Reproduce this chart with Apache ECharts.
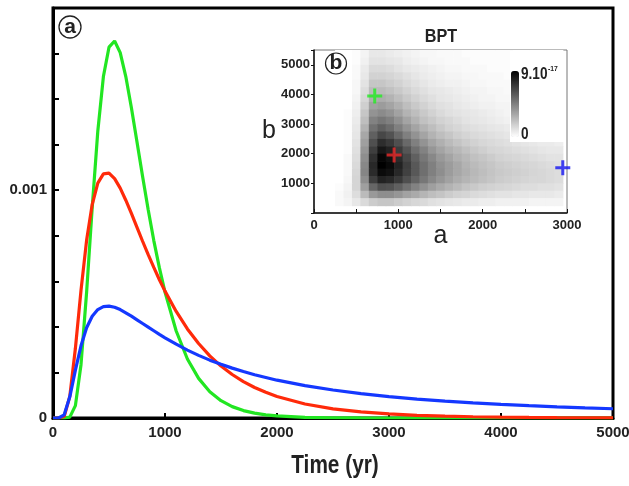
<!DOCTYPE html>
<html><head><meta charset="utf-8">
<script src="https://cdn.jsdelivr.net/npm/echarts/dist/echarts.min.js"></script>
<style>html,body{margin:0;padding:0;background:#fff}#c{width:629px;height:486px}</style>
</head><body><div id="c"></div>
<script>
// ---- main panel (a): probability density vs time ----
const time = [0,50,100,150,200,250,300,350,400,450,500,550,600,650,700,750,800,850,900,950,1000,
  1100,1200,1300,1400,1500,1600,1700,1800,1900,2000,2250,2500,2750,3000,3250,3500,3750,4000,4250,4500,4750,5000];
const greenVals = [0,0,0,0.00000365,0.0000542,0.000234,0.000551,0.000923,0.001259,0.001499,0.001628,0.001655,0.001604,0.001499,0.001362,0.001212,0.001060,0.000914,0.000779,0.000659,0.000553,
  0.000382,0.000259,0.000174,0.000115,0.0000761,0.0000499,0.0000326,0.0000212,0.0000138,0.0000090,0.0000030,0.0000010,0.0000003,0.0000001,0,0,0,0,0,0,0,0];
const redVals = [0,0,0.0000066,0.0000948,0.000306,0.000560,0.000780,0.000937,0.001031,0.001072,0.001075,0.001051,0.001009,0.000956,0.000898,0.000837,0.000776,0.000717,0.000661,0.000607,0.000557,
  0.000468,0.000391,0.000327,0.000273,0.000228,0.000191,0.000160,0.000134,0.000113,0.0000945,0.0000615,0.0000403,0.0000266,0.0000177,0.0000118,0.0000079,0.0000054,0.0000036,0.0000025,0.0000017,0.0000012,0.0000008];
const blueVals = [0,0,0.0000141,0.0000930,0.000210,0.000317,0.000396,0.000447,0.000476,0.000489,0.000491,0.000486,0.000476,0.000462,0.000447,0.000431,0.000415,0.000399,0.000383,0.000367,0.000352,
  0.000324,0.000298,0.000275,0.000254,0.000236,0.000219,0.000204,0.000190,0.000178,0.000166,0.000142,0.000123,0.000107,0.0000940,0.0000832,0.0000741,0.0000663,0.0000596,0.0000539,0.0000489,0.0000445,0.0000406];
const mainXTicks = [0,1000,2000,3000,4000,5000];
const mainYLabels = [0, 0.001];

// ---- inset panel (b): BPT likelihood map, values in units of 1e-18 ----
const heatA = [300,400,500,600,700,800,900,1000,1100,1200,1300,1400,1500,1600,1700,1800,1900,2000,2100,2200,2300,2400,2500,2600,2700,2800,2900];
const heatB = [5375,5125,4875,4625,4375,4125,3875,3625,3375,3125,2875,2625,2375,2125,1875,1625,1375,1125,875,625,375];
const heatRows = [
  [0,0,1,4,8,8,7,6,5,4,3,3,2,2,2,1,1,1,1,1,1,0,0,0,0,0,0],
  [0,0,1,5,10,10,9,8,6,5,4,3,3,2,2,2,1,1,1,1,1,1,0,0,0,0,0],
  [0,0,2,7,13,13,12,10,8,7,6,5,4,3,3,2,2,2,1,1,1,1,1,1,0,0,0],
  [0,0,2,8,16,16,15,13,11,9,7,6,5,4,4,3,3,2,2,2,1,1,1,1,1,0,0],
  [0,0,3,10,20,20,18,16,13,11,9,7,6,5,5,4,3,3,2,2,2,2,1,1,1,1,1],
  [0,0,3,12,24,24,22,19,16,13,11,9,8,7,6,5,4,4,3,3,2,2,2,2,1,1,1],
  [0,0,4,14,28,29,27,23,19,16,13,11,9,8,7,6,5,4,4,3,3,2,2,2,2,1,1],
  [0,0,5,17,33,35,32,28,23,19,16,13,11,10,8,7,6,5,5,4,4,3,3,2,2,2,2],
  [0,1,6,20,38,41,38,33,27,23,19,16,13,11,10,9,8,7,6,5,4,4,3,3,3,2,2],
  [0,1,7,23,44,48,45,39,32,27,22,19,16,14,12,10,9,8,7,6,5,5,4,4,3,3,3],
  [0,1,8,27,50,56,52,45,38,32,27,23,19,16,14,12,11,10,9,8,7,6,5,5,4,4,3],
  [0,1,9,31,56,65,61,53,45,38,32,27,23,20,17,15,13,12,11,10,9,8,7,6,5,5,4],
  [0,1,10,34,62,74,70,62,53,45,38,32,28,24,21,18,16,14,13,12,11,10,9,8,7,7,6],
  [0,1,11,37,68,82,78,69,60,51,44,37,32,28,25,22,19,17,15,14,13,12,11,10,9,8,8],
  [0,2,12,40,73,88,84,75,65,56,48,42,36,32,28,25,22,20,18,16,15,14,13,12,11,10,10],
  [0,2,13,42,76,90,87,78,68,59,51,45,39,35,31,27,24,22,20,18,17,16,15,14,13,12,11],
  [0,2,14,43,75,86,84,76,67,59,51,45,40,35,31,28,25,23,21,19,18,17,16,15,14,13,12],
  [0,3,15,40,68,78,76,70,62,55,48,42,37,33,29,26,24,22,20,18,17,16,15,14,14,13,12],
  [1,4,15,34,54,62,61,56,50,44,39,34,30,27,24,21,19,17,16,15,14,13,12,12,11,11,10],
  [2,5,12,24,36,40,40,37,33,30,26,23,21,18,16,15,13,12,11,10,10,9,9,8,8,8,7],
  [2,4,8,13,18,20,20,18,16,14,13,11,10,9,8,7,7,6,6,5,5,5,5,4,4,4,4]
];
const CELL_A = 100, CELL_B = 250;
const heatMax = 90; // 9.10^-17
const crossA = [720, 950, 2950];
const crossB = [3950, 1960, 1530];
const crossColors = ['#22ee22', '#ee2a2a', '#1414f0'];

const FONT = '"Liberation Sans", Arial, sans-serif';

const heatData = [];
heatB.forEach((b, i) => heatA.forEach((a, j) => heatData.push([a, b, heatRows[i][j]])));
const zip = (xs, ys) => xs.map((x, i) => [x, ys[i]]);

const chart = echarts.init(document.getElementById('c'), null, {renderer: 'canvas'});
const lineSeries = (name, vals, color) => ({
  name, type: 'line', xAxisIndex: 0, yAxisIndex: 0, data: zip(time, vals),
  showSymbol: false, smooth: false, lineStyle: {color, width: 3.2}, itemStyle: {color}, z: 3
});

chart.setOption({
  animation: false,
  backgroundColor: '#fff',
  grid: [
    {left: 53, right: 16, top: 8, bottom: 68, show: true, borderColor: '#000', borderWidth: 3, outerBoundsMode: 'none'},
    {left: 314, top: 50, width: 253, height: 163, show: true, backgroundColor: '#fff', borderColor: '#777', borderWidth: 1, z: 5, outerBoundsMode: 'none'}
  ],
  xAxis: [
    {type: 'value', gridIndex: 0, min: 0, max: 5000, interval: 1000,
     axisLine: {lineStyle: {color: '#000', width: 3}},
     axisTick: {inside: true, length: 5, lineStyle: {color: '#000', width: 2}},
     axisLabel: {fontFamily: FONT, fontWeight: 'bold', fontSize: 15, color: '#222', margin: 7,
       formatter: v => mainXTicks.includes(v) ? String(v) : ''},
     splitLine: {show: false}},
    {type: 'value', gridIndex: 1, min: 0, max: 3000, interval: 500, z: 6,
     name: 'a', nameLocation: 'middle', nameGap: 11, nameMoveOverlap: false,
     nameTextStyle: {fontFamily: FONT, fontSize: 25, color: '#222'},
     axisLine: {lineStyle: {color: '#111', width: 1.5}},
     axisTick: {inside: true, length: 4, lineStyle: {color: '#111'}},
     axisLabel: {fontFamily: FONT, fontWeight: 'bold', fontSize: 13, color: '#222', margin: 6,
       formatter: v => (v % 1000 === 0) ? String(v) : ''},
     splitLine: {show: false}}
  ],
  yAxis: [
    {type: 'value', gridIndex: 0, min: 0, max: 0.0018, interval: 0.0002,
     axisLine: {lineStyle: {color: '#000', width: 3}},
     axisTick: {inside: true, length: 6, lineStyle: {color: '#000', width: 2}},
     axisLabel: {fontFamily: FONT, fontWeight: 'bold', fontSize: 15, color: '#222', margin: 6,
       formatter: v => { const m = mainYLabels.find(t => Math.abs(t - v) < 1e-9); return m === undefined ? '' : String(m); }},
     splitLine: {show: false}},
    {type: 'value', gridIndex: 1, min: 0, max: 5500, interval: 1000, z: 6,
     name: 'b', nameLocation: 'middle', nameGap: 38, nameRotate: 0, nameMoveOverlap: false,
     nameTextStyle: {fontFamily: FONT, fontSize: 25, color: '#222'},
     axisLine: {lineStyle: {color: '#111', width: 1.5}},
     axisTick: {inside: false, length: 3, lineStyle: {color: '#111'}},
     axisLabel: {fontFamily: FONT, fontWeight: 'bold', fontSize: 13, color: '#222', margin: 4,
       formatter: v => (v > 0 && v % 1000 === 0) ? String(v) : ''},
     splitLine: {show: false}}
  ],
  visualMap: {
    type: 'continuous', seriesIndex: 3, dimension: 2, min: 0, max: heatMax,
    calculable: false, orient: 'vertical', itemWidth: 8, itemHeight: 66,
    left: 510, top: 51, padding: [20, 46, 5, 1], backgroundColor: '#fff',
    text: ['', ''], inRange: {color: ['#ffffff', '#000000']}, z: 8
  },
  graphic: [
    {type: 'text', x: 335, y: 466, scaleX: 0.8, style: {text: 'Time (yr)', font: 'bold 26px ' + FONT, fill: '#222', align: 'center', verticalAlign: 'middle'}, z: 101},
    {type: 'circle', shape: {cx: 70, cy: 27, r: 11}, style: {fill: '#fff', stroke: '#222', lineWidth: 1.3}, z: 100},
    {type: 'text', x: 70, y: 27, style: {text: 'a', font: 'bold 21px ' + FONT, fill: '#222', align: 'center', verticalAlign: 'middle'}, z: 101},
    {type: 'circle', shape: {cx: 336, cy: 63.5, r: 10.5}, style: {fill: 'rgba(255,255,255,0)', stroke: '#222', lineWidth: 1.2}, z: 100},
    {type: 'text', x: 336, y: 63.5, style: {text: 'b', font: 'bold 21px ' + FONT, fill: '#222', align: 'center', verticalAlign: 'middle'}, z: 101},
    {type: 'text', x: 441, y: 37, scaleX: 0.9, style: {text: 'BPT', font: 'bold 18px ' + FONT, fill: '#222', align: 'center', verticalAlign: 'middle'}, z: 101},
    {type: 'text', x: 521, y: 75, scaleX: 0.85, style: {text: '9.10', font: 'bold 16px ' + FONT, fill: '#222', align: 'left', verticalAlign: 'middle'}, z: 101},
    {type: 'text', x: 548, y: 69, scaleX: 0.85, style: {text: '-17', font: 'bold 8px ' + FONT, fill: '#222', align: 'left', verticalAlign: 'middle'}, z: 101},
    {type: 'text', x: 521, y: 135, scaleX: 0.85, style: {text: '0', font: 'bold 16px ' + FONT, fill: '#222', align: 'left', verticalAlign: 'middle'}, z: 101}
  ],
  series: [
    lineSeries('green', greenVals, '#22e622'),
    lineSeries('red', redVals, '#ff2a0a'),
    lineSeries('blue', blueVals, '#1438ff'),
    {type: 'custom', xAxisIndex: 1, yAxisIndex: 1, data: heatData, z: 6, clip: true,
     encode: {x: 0, y: 1},
     renderItem: function (params, api) {
       const a = api.value(0), b = api.value(1);
       const p0 = api.coord([a - CELL_A / 2, b + CELL_B / 2]);
       const p1 = api.coord([a + CELL_A / 2, b - CELL_B / 2]);
       return {type: 'rect', shape: {x: p0[0], y: p0[1], width: p1[0] - p0[0] + 0.6, height: p1[1] - p0[1] + 0.6},
               style: {fill: api.visual('color')}};
     }},
    {type: 'scatter', xAxisIndex: 1, yAxisIndex: 1, z: 9,
     data: crossA.map((a, i) => ({value: [a, crossB[i]], itemStyle: {color: crossColors[i]}})),
     symbol: 'path://M4,0H6V4H10V6H6V10H4V6H0V4H4Z', symbolSize: 15}
  ]
});
</script>
</body></html>
